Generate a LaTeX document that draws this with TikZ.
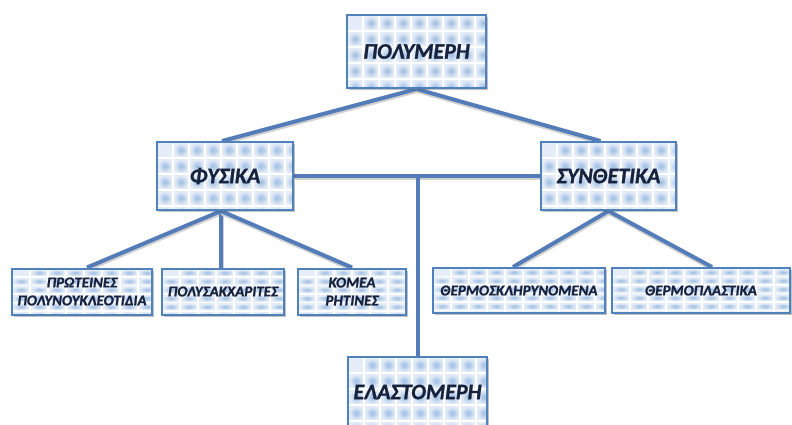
\documentclass[tikz,border=0pt]{standalone}
\usepackage{fontspec}
\setmainfont{Carlito}[BoldItalicFeatures={FakeBold=1.2}]
\usetikzlibrary{positioning,shadows,backgrounds,calc}

\definecolor{boxline}{RGB}{79,129,189}
\definecolor{linkline}{RGB}{84,124,184}
\definecolor{tilemid}{RGB}{158,188,224}
\definecolor{tileedge}{RGB}{228,237,248}
\definecolor{labeltext}{RGB}{22,34,62}

\begin{document}
\begin{tikzpicture}[
    x=1pt, y=-1pt,
    tiles/.style 2 args={
        path picture={
            \foreach \i in {0,...,11}{
                \foreach \j in {0,...,9}{
                    \shade[inner color=tilemid, outer color=tileedge]
                        ([shift={(\i*#1pt+1.2pt,-\j*#2pt-1.2pt)}]path picture bounding box.north west)
                        rectangle ++(#1pt-2.4pt,-#2pt+2.4pt);
                }
            }
        }
    },
    box/.style={
        draw=boxline,
        fill=white,
        line width=2pt,
        inner sep=0pt,
        align=center,
        text=labeltext,
        font=\fontsize{22}{26}\selectfont\bfseries\itshape,
        drop shadow={shadow xshift=1.5pt, shadow yshift=-2pt, opacity=0.35, fill=black!70},
        tiles={16}{16}
    },
    bigbox/.style={box, minimum width=138pt, minimum height=70pt},
    leaf/.style={
        box,
        minimum height=46pt,
        tiles={18}{8.5},
        font=\fontsize{15}{18}\selectfont\bfseries\itshape
    },
    link/.style={
        draw=linkline,
        line width=4pt,
        preaction={draw=black!18, line width=4pt, transform canvas={shift={(0.5pt,-2pt)}}}
    }
]
\useasboundingbox (0,0) rectangle (792,424);

% Top level
\node[bigbox, minimum width=139pt, minimum height=73pt] (polymers) at (416.5,51.5) {ΠΟΛΥΜΕΡΗ};

% Second level
\node[bigbox, minimum width=136pt, minimum height=68pt] (natural) at (225,176) {ΦΥΣΙΚΑ};
\node[bigbox, minimum width=135pt, minimum height=68pt] (synthetic) at (608.5,176) {ΣΥΝΘΕΤΙΚΑ};

% Natural polymers
\node[leaf, minimum width=140pt] (proteins) at (82,291.5) {ΠΡΩΤΕΊΝΕΣ\\ΠΟΛΥΝΟΥΚΛΕΟΤΙΔΙΑ};
\node[leaf, minimum width=122pt] (sugars) at (223,291.5) {ΠΟΛΥΣΑΚΧΑΡΙΤΕΣ};
\node[leaf, minimum width=108pt] (resins) at (352,291.5) {ΚΟΜΕΑ\\ΡΗΤΙΝΕΣ};

% Synthetic polymers
\node[leaf, minimum width=172pt, minimum height=45pt] (thermoset) at (519,290.5) {ΘΕΡΜΟΣΚΛΗΡΥΝΟΜΕΝΑ};
\node[leaf, minimum width=178pt, minimum height=45pt] (thermoplastic) at (701,290.5) {ΘΕΡΜΟΠΛΑΣΤΙΚΑ};

% Elastomers
\node[bigbox, minimum width=139pt, minimum height=70pt] (elastomers) at (417.5,392) {ΕΛΑΣΤΟΜΕΡΗ};

% Connections
\begin{scope}[on background layer]
    \draw[link] (polymers.south) -- ([xshift=-3pt]natural.north);
    \draw[link] (polymers.south) -- ([xshift=-8pt]synthetic.north);
    \draw[link] (natural.east) -- (synthetic.west);
    \draw[link] (natural.east -| elastomers.north) -- (elastomers.north);

    \draw[link] ([xshift=-4pt]natural.south) -- ([xshift=5pt]proteins.north);
    \draw[link] ([xshift=-4pt]natural.south) -- ([xshift=-2pt]sugars.north);
    \draw[link] ([xshift=-4pt]natural.south) -- (resins.north);

    \draw[link] (synthetic.south) -- ([xshift=-6pt]thermoset.north);
    \draw[link] (synthetic.south) -- ([xshift=11pt]thermoplastic.north);
\end{scope}

\end{tikzpicture}
\end{document}
